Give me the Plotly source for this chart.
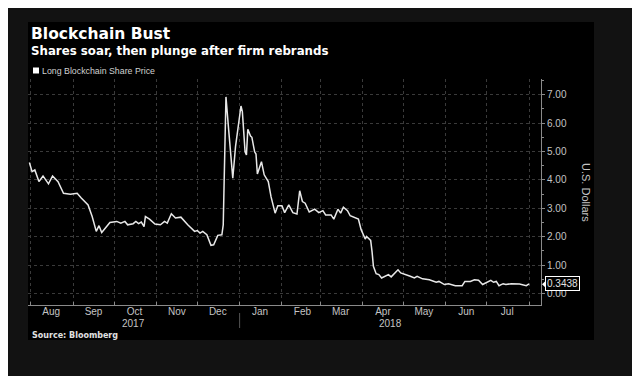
import plotly.graph_objects as go
import pandas as pd

# ---------------- data ----------------
dates = [
    "2017-07-31", "2017-08-02", "2017-08-04", "2017-08-07", "2017-08-10", "2017-08-14",
    "2017-08-17", "2017-08-21", "2017-08-25", "2017-08-30", "2017-09-04", "2017-09-07",
    "2017-09-12", "2017-09-15", "2017-09-18", "2017-09-20", "2017-09-22", "2017-09-28",
    "2017-10-03", "2017-10-06", "2017-10-09", "2017-10-11", "2017-10-15", "2017-10-17",
    "2017-10-19", "2017-10-21", "2017-10-23", "2017-10-24", "2017-10-27", "2017-10-31",
    "2017-11-04", "2017-11-07", "2017-11-09", "2017-11-12", "2017-11-15", "2017-11-19",
    "2017-11-24", "2017-11-29", "2017-12-01", "2017-12-03", "2017-12-05", "2017-12-08",
    "2017-12-11", "2017-12-13", "2017-12-16", "2017-12-19", "2017-12-20", "2017-12-22",
    "2017-12-24", "2017-12-27", "2017-12-29", "2018-01-02", "2018-01-03", "2018-01-05",
    "2018-01-06", "2018-01-07", "2018-01-09", "2018-01-10", "2018-01-12", "2018-01-13",
    "2018-01-14", "2018-01-17", "2018-01-19", "2018-01-22", "2018-01-24", "2018-01-27",
    "2018-01-29", "2018-02-01", "2018-02-03", "2018-02-06", "2018-02-09", "2018-02-12",
    "2018-02-14", "2018-02-16", "2018-02-18", "2018-02-21", "2018-02-25", "2018-02-28",
    "2018-03-03", "2018-03-05", "2018-03-09", "2018-03-11", "2018-03-14", "2018-03-16",
    "2018-03-18", "2018-03-21", "2018-03-23", "2018-03-28", "2018-03-29", "2018-03-31",
    "2018-04-02", "2018-04-03", "2018-04-04", "2018-04-06", "2018-04-07", "2018-04-08",
    "2018-04-09", "2018-04-11", "2018-04-13", "2018-04-15", "2018-04-18", "2018-04-20",
    "2018-04-22", "2018-04-25", "2018-04-27", "2018-04-29", "2018-05-03", "2018-05-06",
    "2018-05-09", "2018-05-11", "2018-05-15", "2018-05-20", "2018-05-25", "2018-05-27",
    "2018-05-31", "2018-06-03", "2018-06-08", "2018-06-13", "2018-06-15", "2018-06-19",
    "2018-06-22", "2018-06-25", "2018-06-28", "2018-07-01", "2018-07-04", "2018-07-06",
    "2018-07-08", "2018-07-10", "2018-07-13", "2018-07-15", "2018-07-19", "2018-07-25",
    "2018-07-27", "2018-07-30", "2018-08-01",
]
prices = [
    4.61, 4.29, 4.35, 3.94, 4.14, 3.86,
    4.14, 3.94, 3.53, 3.50, 3.53, 3.36,
    3.12, 2.71, 2.19, 2.39, 2.15, 2.50,
    2.54, 2.48, 2.54, 2.42, 2.46, 2.54,
    2.46, 2.52, 2.36, 2.71, 2.62, 2.45,
    2.42, 2.54, 2.48, 2.81, 2.66, 2.69,
    2.42, 2.19, 2.22, 2.13, 2.19, 2.07,
    1.70, 1.72, 2.05, 2.07, 2.42, 6.92,
    5.75, 4.06, 5.17, 6.60, 6.40, 4.99,
    4.88, 5.78, 5.54, 5.50, 4.99, 4.91,
    4.21, 4.64, 4.18, 3.94, 3.41, 2.83,
    3.09, 3.09, 2.85, 3.12, 2.85, 2.80,
    3.62, 3.24, 3.18, 2.87, 2.97, 2.85,
    2.92, 2.77, 2.77, 2.62, 2.97, 2.83,
    3.04, 2.92, 2.74, 2.66, 2.62, 2.25,
    2.01, 1.92, 2.01, 1.92, 1.87, 1.48,
    0.96, 0.70, 0.67, 0.55, 0.61, 0.67,
    0.59, 0.73, 0.84, 0.73, 0.67, 0.61,
    0.55, 0.61, 0.52, 0.49, 0.40, 0.43,
    0.32, 0.35, 0.28, 0.28, 0.43, 0.43,
    0.49, 0.47, 0.32, 0.40, 0.47, 0.40,
    0.43, 0.28, 0.35, 0.32, 0.35, 0.34,
    0.32, 0.28, 0.3438,
]
series_name = "Long Blockchain Share Price"
month_labels = ["Aug", "Sep", "Oct", "Nov", "Dec", "Jan", "Feb", "Mar", "Apr", "May", "Jun", "Jul"]
year_labels = ["2017", "2018"]
y_tick_values = [0, 1, 2, 3, 4, 5, 6, 7]
title_text = "Blockchain Bust"
subtitle_text = "Shares soar, then plunge after firm rebrands"
source_text = "Source: Bloomberg"
y_title_text = "U.S. Dollars"

# ---------------- layout geometry ----------------
W, H = 640, 376
OFF = 8  # page body margin in the browser
L, R, T, B = 28 - OFF, 541 - OFF, 79 - OFF, 305 - OFF


def px_x(px):
    return (px - OFF - L) / (R - L)


def px_y(py):
    return (B - (py - OFF)) / (B - T)


x_start = pd.Timestamp("2017-07-30")
x_end = pd.Timestamp("2018-08-09 18:00")
month_starts = pd.date_range("2017-08-01", "2018-08-01", freq="MS")
month_mids = [d + pd.Timedelta(days=15) for d in month_starts[:12]]
year_break = pd.Timestamp("2018-01-01")
year_pos = [x_start + (year_break - x_start) / 2, year_break + (x_end - year_break) / 2]

LABEL = "#c4c4c4"
GRID = "#3a3a3a"
AXIS = "#8a8a8a"
FONT = "DejaVu Sans"

fig = go.Figure()
fig.add_trace(go.Scatter(
    x=pd.to_datetime(dates), y=prices, mode="lines", name=series_name,
    line=dict(color="#e8e8e8", width=1.5), showlegend=False,
))

annotations = [
    dict(text=f"<b>{title_text}</b>", x=px_x(29), y=px_y(34), xref="paper", yref="paper",
         xanchor="left", yanchor="middle", showarrow=False,
         font=dict(family=FONT, size=15.5, color="#ffffff")),
    dict(text=f"<b>{subtitle_text}</b>", x=px_x(29), y=px_y(51), xref="paper", yref="paper",
         xanchor="left", yanchor="middle", showarrow=False,
         font=dict(family=FONT, size=11.8, color="#ffffff")),
    dict(text=series_name, x=px_x(40), y=px_y(70.5), xref="paper", yref="paper",
         xanchor="left", yanchor="middle", showarrow=False,
         font=dict(family="Liberation Sans", size=8.8, color="#d0d0d0")),
    dict(text=f"<b>{source_text}</b>", x=px_x(30), y=px_y(335), xref="paper", yref="paper",
         xanchor="left", yanchor="middle", showarrow=False,
         font=dict(family=FONT, size=8, color="#e0e0e0")),
    dict(text=y_title_text, x=px_x(586), y=px_y(192), xref="paper", yref="paper",
         xanchor="center", yanchor="middle", showarrow=False, textangle=90,
         font=dict(family="Liberation Sans", size=11, color=LABEL)),
    dict(text=f"{prices[-1]:.4f}", x=px_x(545), y=prices[-1], xref="paper", yref="y",
         xanchor="left", yanchor="middle", showarrow=False,
         bgcolor="#000000", bordercolor="#ffffff", borderwidth=1, borderpad=1,
         font=dict(family="Liberation Sans", size=10, color="#e0e0e0")),
]
for lab, pos in zip(year_labels, year_pos):
    annotations.append(dict(text=lab, x=pos, y=px_y(323), xref="x", yref="paper",
                            xanchor="center", yanchor="middle", showarrow=False,
                            font=dict(family="Liberation Sans", size=10, color=LABEL)))

shapes = [
    # black panel
    dict(type="rect", xref="paper", yref="paper", x0=px_x(28), x1=px_x(594),
         y0=px_y(340), y1=px_y(22), fillcolor="#000000", line=dict(width=0), layer="below"),
    # legend square
    dict(type="rect", xref="paper", yref="paper", x0=px_x(33), x1=px_x(39),
         y0=px_y(73.5), y1=px_y(67.5), fillcolor="#ffffff", line=dict(width=0)),
    # year separator
    dict(type="line", xref="x", yref="paper", x0=year_break, x1=year_break,
         y0=px_y(313), y1=px_y(328), line=dict(color="#555555", width=1)),
    # pointer of last value label
    dict(type="path", xref="paper", yref="paper",
         path=f"M {px_x(542)} {px_y(284.3)} L {px_x(545.5)} {px_y(281)} L {px_x(545.5)} {px_y(287.6)} Z",
         fillcolor="#ffffff", line=dict(width=0)),
]

fig.update_layout(
    width=W, height=H,
    margin=dict(l=L, r=W - R, t=T, b=H - B, pad=0),
    paper_bgcolor="#121212", plot_bgcolor="#000000",
    showlegend=False,
    annotations=annotations, shapes=shapes,
    xaxis=dict(
        type="date", range=[x_start, x_end],
        tickmode="array", tickvals=month_mids, ticktext=month_labels,
        ticks="", showgrid=False, showline=True, linecolor=AXIS, linewidth=1,
        tickfont=dict(family="Liberation Sans", size=10, color=LABEL),
        ticklabelstandoff=-3,
        zeroline=False,
        minor=dict(tickmode="array", tickvals=list(month_starts), ticks="inside",
                   ticklen=3, tickcolor=AXIS, showgrid=True, gridcolor=GRID,
                   griddash="dot", gridwidth=1),
    ),
    yaxis=dict(
        side="right", range=[-0.4, 7.55],
        tickmode="array", tickvals=y_tick_values,
        ticktext=[f"{v:.2f}" for v in y_tick_values],
        ticks="outside", ticklen=3, tickcolor=AXIS,
        showline=True, linecolor=AXIS, linewidth=1,
        showgrid=True, gridcolor=GRID, griddash="dot", gridwidth=1,
        zeroline=False,
        tickfont=dict(family="Liberation Sans", size=10, color=LABEL),
        minor=dict(dtick=0.5, tick0=0, ticks="outside", ticklen=2, tickcolor=AXIS, showgrid=False),
    ),
)

fig.write_html("out.html")
